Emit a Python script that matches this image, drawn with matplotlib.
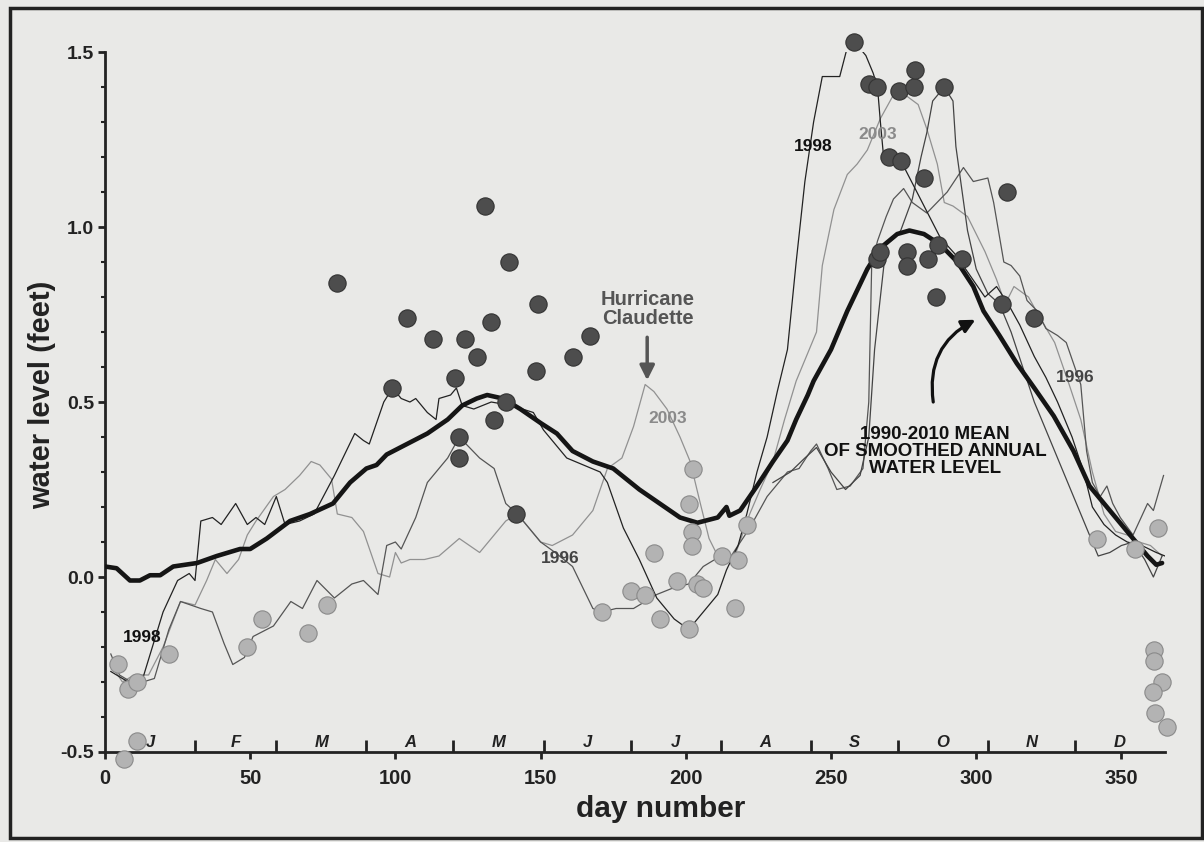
import matplotlib
matplotlib.use('Agg')
import matplotlib.pyplot as plt
from matplotlib.patches import Rectangle
from matplotlib.ticker import MultipleLocator

plt.rcParams['font.family'] = ['Liberation Sans', 'DejaVu Sans']
plt.rcParams['font.weight'] = 'bold'
plt.rcParams['axes.labelweight'] = 'bold'

# 1990-2010 mean of smoothed annual water level
mean_days = [0, 4, 8.6, 12, 15.5, 19, 23.5, 31.7, 38.5, 46.5,
             50, 55.7, 63.7, 70.6, 78.5, 84.4, 90, 93.5, 97, 104,
             111, 118, 123, 128, 131.6, 137, 143, 150, 155.6, 161,
             168, 175, 181, 184, 191, 198, 204, 211, 214, 215,
             218.7, 224.5, 230, 235, 238, 242, 244, 250, 255.6, 262.5,
             267, 272.8, 277, 282, 287.6, 293.5, 299, 302.5, 308, 314,
             320, 326.7, 333.5, 339, 347, 354, 359, 362, 364]
mean_level = [0.03, 0.025, -0.01, -0.01, 0.005, 0.005, 0.03, 0.04, 0.06, 0.08,
              0.08, 0.11, 0.16, 0.18, 0.21, 0.27, 0.31, 0.32, 0.35, 0.38,
              0.41, 0.45, 0.49, 0.51, 0.52, 0.51, 0.48, 0.44, 0.41, 0.36,
              0.33, 0.31, 0.27, 0.25, 0.21, 0.17, 0.155, 0.17, 0.20, 0.175,
              0.19, 0.26, 0.33, 0.39, 0.45, 0.52, 0.56, 0.65, 0.76, 0.88,
              0.94, 0.98, 0.99, 0.98, 0.95, 0.90, 0.83, 0.76, 0.69, 0.61,
              0.54, 0.46, 0.36, 0.26, 0.18, 0.11, 0.06, 0.035, 0.04]

days_1998 = [2, 6, 10, 13, 20, 25, 29, 31, 33, 37,
             40, 45, 49, 52, 55, 59, 62, 67, 72, 79,
             86, 89, 91, 96, 99, 102, 105, 107, 111, 114,
             115, 119, 121, 123, 127, 133, 140, 147.5, 151, 159,
             170.5, 173, 178.5, 184, 190, 196, 201, 206, 211, 214,
             218, 221, 224.5, 228, 231.5, 235, 238, 241, 244, 247,
             253, 255.5, 258, 262, 264.5, 266, 267, 268, 270, 274,
             287.6, 293, 298, 303, 307, 311, 315, 320, 324, 328,
             333, 337, 340, 344, 348, 352, 357, 362, 365]
level_1998 = [-0.27, -0.29, -0.31, -0.29, -0.10, -0.01, 0.01, -0.01, 0.16, 0.17,
              0.15, 0.21, 0.15, 0.17, 0.15, 0.23, 0.15, 0.16, 0.18, 0.29,
              0.41, 0.39, 0.38, 0.50, 0.54, 0.51, 0.50, 0.51, 0.47, 0.45,
              0.51, 0.52, 0.54, 0.49, 0.48, 0.50, 0.49, 0.47, 0.42, 0.34,
              0.30, 0.27, 0.14, 0.05, -0.06, -0.12, -0.15, -0.10, -0.05, 0.02,
              0.09, 0.18, 0.30, 0.40, 0.53, 0.65, 0.90, 1.13, 1.30, 1.43,
              1.43, 1.51, 1.53, 1.49, 1.44, 1.40, 1.30, 1.21, 1.20, 1.19,
              0.97, 0.92, 0.86, 0.80, 0.83, 0.78, 0.72, 0.63, 0.57, 0.50,
              0.40, 0.30, 0.20, 0.15, 0.12, 0.10, 0.09, 0.07, 0.06]

days_2003 = [2, 6, 10, 15, 20, 26, 31, 35, 38, 42,
             46, 49, 52, 58, 62, 67, 71, 74, 78, 80,
             85, 89, 94, 98, 100, 102, 105, 110, 115, 122,
             129, 138, 142, 150, 154, 161, 168, 173, 178, 182,
             186, 189, 193.5, 198, 201.5, 205, 208, 211, 216, 222,
             225.6, 230, 234, 238, 242, 245, 247, 251, 255.6, 259,
             262.5, 267, 271, 273.5, 280, 283, 286.6, 289, 292, 297,
             303, 307, 310, 313, 318, 322, 327, 332, 336, 340,
             344, 348, 352, 356, 360, 364]
level_2003 = [-0.25, -0.30, -0.28, -0.28, -0.20, -0.07, -0.08, -0.01, 0.05, 0.01,
              0.05, 0.12, 0.16, 0.23, 0.25, 0.29, 0.33, 0.32, 0.28, 0.18,
              0.17, 0.13, 0.01, 0.00, 0.07, 0.04, 0.05, 0.05, 0.06, 0.11,
              0.07, 0.16, 0.18, 0.10, 0.09, 0.12, 0.19, 0.31, 0.34, 0.43,
              0.55, 0.53, 0.48, 0.40, 0.33, 0.21, 0.11, 0.06, 0.04, 0.18,
              0.25, 0.33, 0.45, 0.56, 0.64, 0.70, 0.89, 1.05, 1.15, 1.18,
              1.22, 1.31, 1.37, 1.39, 1.35, 1.28, 1.18, 1.07, 1.06, 1.03,
              0.93, 0.85, 0.78, 0.83, 0.80, 0.74, 0.67, 0.55, 0.45, 0.30,
              0.18, 0.13, 0.12, 0.10, 0.09, 0.06]

days_1996 = [2, 5, 9, 13, 17, 22, 26, 33, 37, 41,
             44, 48, 51, 58, 64, 68, 73, 79, 85, 89,
             94, 97, 100, 102, 107, 111, 118, 122, 129, 134,
             138, 142, 150, 155, 161, 168, 171, 176, 182, 190,
             196, 201, 206, 210, 214, 222, 228, 235, 239, 243,
             245, 249, 252, 256.6, 261, 263, 264, 266, 269, 271.5,
             275, 278, 283, 290, 295.6, 299, 304, 306, 309.5, 312,
             315, 317.5, 321, 324, 328, 331, 333.5, 336, 338, 340,
             342.7, 345, 347, 349.6, 354, 359, 361, 364.5]
level_1996 = [-0.22, -0.28, -0.30, -0.30, -0.29, -0.15, -0.07, -0.09, -0.10, -0.19,
              -0.25, -0.23, -0.17, -0.14, -0.07, -0.09, -0.01, -0.06, -0.02, -0.01,
              -0.05, 0.09, 0.10, 0.08, 0.17, 0.27, 0.34, 0.40, 0.34, 0.31,
              0.21, 0.18, 0.10, 0.07, 0.03, -0.09, -0.10, -0.09, -0.09, -0.05,
              -0.03, -0.02, 0.03, 0.05, 0.04, 0.14, 0.23, 0.30, 0.31, 0.36,
              0.38, 0.31, 0.25, 0.26, 0.31, 0.50, 0.89, 0.96, 1.03, 1.08,
              1.11, 1.07, 1.04, 1.10, 1.17, 1.13, 1.14, 1.07, 0.90, 0.89,
              0.86, 0.79, 0.76, 0.71, 0.69, 0.67, 0.61, 0.55, 0.36, 0.27,
              0.23, 0.26, 0.21, 0.17, 0.12, 0.21, 0.19, 0.29]

# another (unlabelled) year, only the second half shows
days_other = [230, 236, 241, 245, 250, 255, 260, 263, 265, 267,
              269, 272, 274, 278, 281, 283, 285, 289, 292, 293,
              297, 300, 304, 308, 312, 316, 320, 325, 330, 335,
              339, 342, 346, 350, 354, 358, 361, 364]
level_other = [0.27, 0.30, 0.34, 0.37, 0.30, 0.25, 0.29, 0.40, 0.65, 0.80,
               0.95, 0.97, 0.99, 1.08, 1.20, 1.27, 1.36, 1.40, 1.36, 1.23,
               0.99, 0.88, 0.81, 0.78, 0.70, 0.60, 0.50, 0.40, 0.30, 0.20,
               0.12, 0.06, 0.07, 0.09, 0.10, 0.05, 0.00, 0.06]

# annual highs (dark dots) and lows (light dots)
high_days = [80, 99, 104, 113, 120.6, 122, 122, 124, 128, 131,
             133, 134, 138, 139, 141.6, 148.5, 149, 161, 167, 258,
             263, 266, 266, 267, 270, 273.5, 274, 276, 276, 278.7,
             279, 282, 283.5, 286, 287, 289, 295, 309, 310.7, 320]
high_level = [0.84, 0.54, 0.74, 0.68, 0.57, 0.40, 0.34, 0.68, 0.63, 1.06,
              0.73, 0.45, 0.50, 0.90, 0.18, 0.59, 0.78, 0.63, 0.69, 1.53,
              1.41, 1.40, 0.91, 0.93, 1.20, 1.39, 1.19, 0.93, 0.89, 1.40,
              1.45, 1.14, 0.91, 0.80, 0.95, 1.40, 0.91, 0.78, 1.10, 0.74]

low_days = [4.5, 8, 11, 11, 6.5, 22, 49, 54, 70, 76.5,
            171, 181, 186, 189, 191, 197, 201, 201, 202, 202,
            202.6, 204, 206, 212.5, 217, 218, 221, 341.7, 354.8, 362.7,
            361.3, 361.3, 364, 360.7, 361.7, 365.8]
low_level = [-0.25, -0.32, -0.30, -0.47, -0.52, -0.22, -0.20, -0.12, -0.16, -0.08,
             -0.10, -0.04, -0.05, 0.07, -0.12, -0.01, -0.15, 0.21, 0.13, 0.09,
             0.31, -0.02, -0.03, 0.06, -0.09, 0.05, 0.15, 0.11, 0.08, 0.14,
             -0.21, -0.24, -0.30, -0.33, -0.39, -0.43]

month_starts = [31, 59, 90, 120, 151, 181, 212, 243, 273, 304, 334]
month_mids = [15.5, 45, 74.5, 105, 135.5, 166, 196.5, 227.5, 258, 288.5, 319, 349.5]
month_letters = ['J', 'F', 'M', 'A', 'M', 'J', 'J', 'A', 'S', 'O', 'N', 'D']


fig = plt.figure(figsize=(12.04, 8.42), dpi=100, facecolor='#e9e9e7')
ax = fig.add_axes([0.0872, 0.1069, 0.8804, 0.8313])
ax.set_facecolor('none')
ax.set_xlim(0, 365)
ax.set_ylim(-0.5, 1.5)

ax.plot(days_2003, level_2003, color='#919191', lw=0.9, zorder=2)
ax.plot(days_1996, level_1996, color='#555555', lw=0.9, zorder=2)
ax.plot(days_other, level_other, color='#444444', lw=0.9, zorder=2)
ax.plot(days_1998, level_1998, color='#222222', lw=0.9, zorder=2)
ax.plot(mean_days, mean_level, color='#151515', lw=3.3, zorder=3,
        solid_capstyle='round')

ax.scatter(high_days, high_level, s=155, color='#4d4d4d',
           edgecolors='#333333', linewidths=0.8, zorder=4, clip_on=False)
ax.scatter(low_days, low_level, s=155, color='#b3b3b3',
           edgecolors='#8a8a8a', linewidths=0.8, zorder=4, clip_on=False)

# year labels
ax.text(12.7, -0.174, '1998', ha='center', va='center', fontsize=12.5, color='#111111')
ax.text(243.9, 1.229, '1998', ha='center', va='center', fontsize=12.5, color='#111111')
ax.text(193.6, 0.454, '2003', ha='center', va='center', fontsize=12.5, color='#8a8a8a')
ax.text(265.9, 1.263, '2003', ha='center', va='center', fontsize=12.5, color='#8a8a8a')
ax.text(156.7, 0.054, '1996', ha='center', va='center', fontsize=12.5, color='#444444')
ax.text(334, 0.569, '1996', ha='center', va='center', fontsize=12.5, color='#444444')

ax.text(187, 0.765, 'Hurricane\nClaudette', ha='center', va='center',
        fontsize=14.5, color='#555555', linespacing=1.0)
ax.annotate('', xy=(186.7, 0.562), xytext=(186.7, 0.685),
            arrowprops=dict(arrowstyle='-|>', lw=2.5, color='#555555',
                            mutation_scale=22, shrinkA=0, shrinkB=0))

ax.text(285.9, 0.36, '1990-2010 MEAN\nOF SMOOTHED ANNUAL\nWATER LEVEL',
        ha='center', va='center', fontsize=13.5, color='#111111', linespacing=1.0)
ax.annotate('', xy=(299.7, 0.735), xytext=(285.2, 0.50),
            arrowprops=dict(arrowstyle='-|>', lw=2.3, color='#111111',
                            mutation_scale=20, shrinkA=0, shrinkB=0,
                            connectionstyle='arc3,rad=-0.35'))

# months along the bottom axis
for d, m in zip(month_mids, month_letters):
    ax.text(d, -0.474, m, ha='center', va='center', fontsize=12,
            style='italic', color='#222222')

for s in ['top', 'right']:
    ax.spines[s].set_visible(False)
for s in ['left', 'bottom']:
    ax.spines[s].set_linewidth(2.0)
    ax.spines[s].set_color('#222222')

ax.set_xticks(range(0, 351, 50))
ax.set_xticks(month_starts, minor=True)
ax.tick_params(axis='x', which='major', direction='out', length=5, width=2,
               labelsize=14.5, pad=7, colors='#222222')
ax.tick_params(axis='x', which='minor', direction='in', length=9, width=2,
               colors='#222222')
ax.set_yticks([-0.5, 0.0, 0.5, 1.0, 1.5])
ax.set_yticklabels(['-0.5', '0.0', '0.5', '1.0', '1.5'])
ax.yaxis.set_minor_locator(MultipleLocator(0.1))
ax.tick_params(axis='y', which='major', direction='out', length=5, width=2,
               labelsize=14, pad=3, colors='#222222')
ax.tick_params(axis='y', which='minor', direction='out', length=3, width=1.5,
               colors='#222222')

ax.set_xlabel('day number', fontsize=21.5, fontweight='bold', color='#222222')
ax.xaxis.set_label_coords(0.5245, -0.062)
ax.set_ylabel('water level (feet)', fontsize=21, fontweight='bold', color='#222222')
ax.yaxis.set_label_coords(-0.046, 0.51)

fig.patches.append(Rectangle((0.008, 0.005), 0.99, 0.985, transform=fig.transFigure,
                             fill=False, lw=2.5, ec='#222222'))

fig.savefig('out.png', dpi=100, facecolor=fig.get_facecolor())
